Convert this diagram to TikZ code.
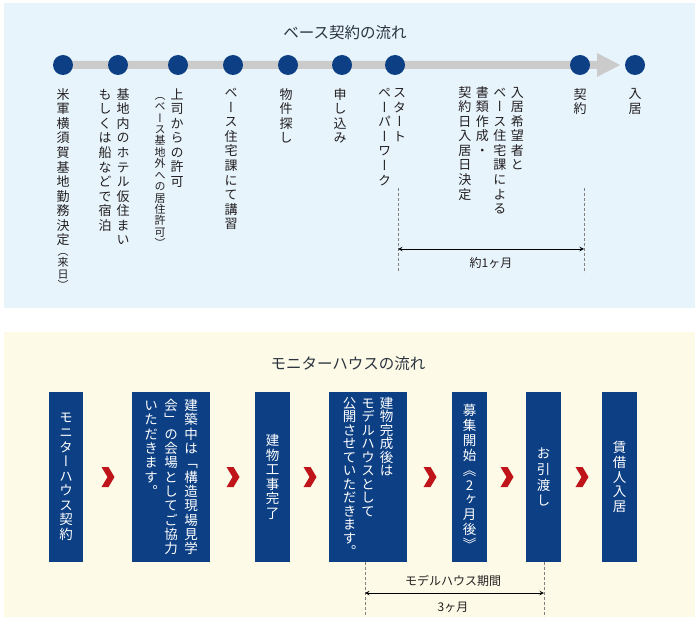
\documentclass[tikz,border=0pt]{standalone}
\usepackage{fontspec}
\setmainfont{Noto Sans CJK JP}
\newfontfamily\tatefont[RawFeature=+vert]{Noto Sans CJK JP}
\usetikzlibrary{calc,positioning}

\definecolor{skyback}{HTML}{E7F4FC}
\definecolor{creamback}{HTML}{FDFBE7}
\definecolor{navy}{HTML}{0C3F84}
\definecolor{bargray}{HTML}{CBCBCB}
\definecolor{chevred}{HTML}{C0141B}
\definecolor{ink}{HTML}{231F20}
\definecolor{titleink}{HTML}{2B3440}

% vertical writing: one character per line
\def\tateloop#1{\ifx#1\relax\else\hbox to 1em{\hss#1\hss}\expandafter\tateloop\fi}
\newcommand\tate[2][1.12]{\vtop{\tatefont\baselineskip=#1em\lineskiplimit=-\maxdimen\tateloop#2\relax}}

\begin{document}
\begin{tikzpicture}[x=1pt,y=-1pt,
			dot/.style={circle,fill=navy,inner sep=0pt,minimum size=20pt},
			lbl/.style={text=ink,inner sep=0pt,anchor=north,font=\fontsize{13}{15}\selectfont},
			small/.style={text=ink,inner sep=0pt,anchor=north,font=\fontsize{11}{13}\selectfont},
			ttl/.style={text=titleink,inner sep=0pt,font=\fontsize{15.5}{18}\selectfont},
			note/.style={text=ink,inner sep=0pt,font=\fontsize{12}{14}\selectfont},
			box/.style={fill=navy,text=white,inner sep=0pt,minimum height=170pt,font=\fontsize{13.5}{15}\selectfont},
			guide/.style={densely dashed,gray,line width=0.6pt},
			span/.style={<->,>=stealth,line width=1pt,black}]
			
			\useasboundingbox (0,0) rectangle (700,620);
			
			% Panels
			\fill[skyback] (4,3) rectangle (695,308);
			\fill[creamback] (4,332) rectangle (695,617);
			
			% ---- Base contract flow ----
			\node[ttl] (t1) at (345,33) {ベース契約の流れ};
			
			% Timeline bar with arrow head
			\fill[bargray] (63,61) -- (597,61) -- (597,53) -- (620,65) -- (597,77) -- (597,69) -- (63,69) -- cycle;
			
			% Steps
			\node[dot] (d1) at (63,65) {};
			\node[dot] (d2) at (118,65) {};
			\node[dot] (d3) at (178,65) {};
			\node[dot] (d4) at (233,65) {};
			\node[dot] (d5) at (288,65) {};
			\node[dot] (d6) at (342,65) {};
			\node[dot] (d7) at (395,65) {};
			\node[dot] (d8) at (580,65) {};
			\node[dot] (d9) at (635,65) {};
			
			% Step labels
			\node[lbl,below=13pt of d1] (l1) {\tate{米軍横須賀基地勤務決定}};
			\node[small,below=7pt of l1] (l1b) {\tate[1.04]{（来日）}};
			\node[lbl,below=13pt of d2,xshift=-4pt] (l2) {\tate{もしくは船などで宿泊}\hspace{5pt}\tate{基地内のホテル仮住まい}};
			\node[lbl,below=13pt of d3,xshift=-9pt] (l3) {{\fontsize{11}{13}\selectfont\tate[1.04]{（ベース基地外への居住許可）}}\hspace{5pt}\tate{上司からの許可}};
			\node[lbl,below=13pt of d4,xshift=-2pt] (l4) {\tate{ベース住宅課にて講習}};
			\node[lbl,below=13pt of d5,xshift=-2pt] (l5) {\tate{物件探し}};
			\node[lbl,below=13pt of d6,xshift=-2pt] (l6) {\tate{申し込み}};
			\node[lbl,below=13pt of d7,xshift=-3pt] (l7) {\tate{ペーパーワーク}\hspace{2pt}\tate{スタート}};
			\node[lbl] (l7b) at (491,86) {\tate{契約日入居日決定}\hspace{4.5pt}\tate{書類作成・}\hspace{4.5pt}\tate{ベース住宅課による}\hspace{4.5pt}\tate{入居希望者と}};
			\node[lbl,below=13pt of d8] (l8) {\tate{契約}};
			\node[lbl,below=13pt of d9] (l9) {\tate{入居}};
			
			% About one month
			\coordinate (s1) at (398,188);
			\coordinate (s2) at (398,273);
			\coordinate (e1) at (584,188);
			\coordinate (e2) at (584,273);
			\draw[guide] (s1) -- (s2);
			\draw[guide] (e1) -- (e2);
			\coordinate (a1) at (398,249);
			\coordinate (a2) at (584,249);
			\draw[span] (a1) -- (a2);
			\node[note] (m1) at (491,263) {約1ヶ月};
			
			% ---- Monitor house flow ----
			\node[ttl] (t2) at (348,364) {モニターハウスの流れ};
			
			\node[box,minimum width=34pt] (b1) at (66,477) {\tate[1.08]{モニターハウス契約}};
			\node[box,minimum width=78pt] (b2) at (171,477) {\tate[1.06]{いただきます。}\hspace{6.5pt}\tate[1.06]{会」の会場としてご協力}\hspace{6.5pt}\tate[1.06]{建築中は「構造現場見学}};
			\node[box,minimum width=35pt] (b3) at (272.5,477) {\tate[1.08]{建物工事完了}};
			\node[box,minimum width=78pt] (b4) at (368,477) {\tate[1.0]{公開させていただきます。}\hspace{5pt}\tate[1.0]{モデルハウスとして}\hspace{5pt}\tate[1.0]{建物完成後は}};
			\node[box,minimum width=35pt] (b5) at (469.5,477) {\tate[1.1]{募集開始《2ヶ月後》}};
			\node[box,minimum width=35pt] (b6) at (543.5,477) {\tate[1.18]{お引渡し}};
			\node[box,minimum width=35pt] (b7) at (619.5,477) {\tate[1.08]{賃借人入居}};
			
			% Chevrons between boxes
			\foreach \p/\q in {b1/b2,b2/b3,b3/b4,b4/b5,b5/b6,b6/b7}
			\fill[chevred] ($(\p.east)!0.5!(\q.west)$) ++(-6,-10) -- ++(7,0) -- ++(6,10) -- ++(-6,10) -- ++(-7,0) -- ++(6,-10) -- cycle;
			
			% Model house period
			\coordinate (p1) at (365,562);
			\coordinate (p2) at (365,617);
			\coordinate (q1) at (544,562);
			\coordinate (q2) at (544,617);
			\draw[guide] (p1) -- (p2);
			\draw[guide] (q1) -- (q2);
			\coordinate (h1) at (365,593);
			\coordinate (h2) at (544,593);
			\draw[span] (h1) -- (h2);
			\node[note] (n1) at (453,581) {モデルハウス期間};
			\node[note] (n2) at (453,607) {3ヶ月};
			
		\end{tikzpicture}
\end{document}
